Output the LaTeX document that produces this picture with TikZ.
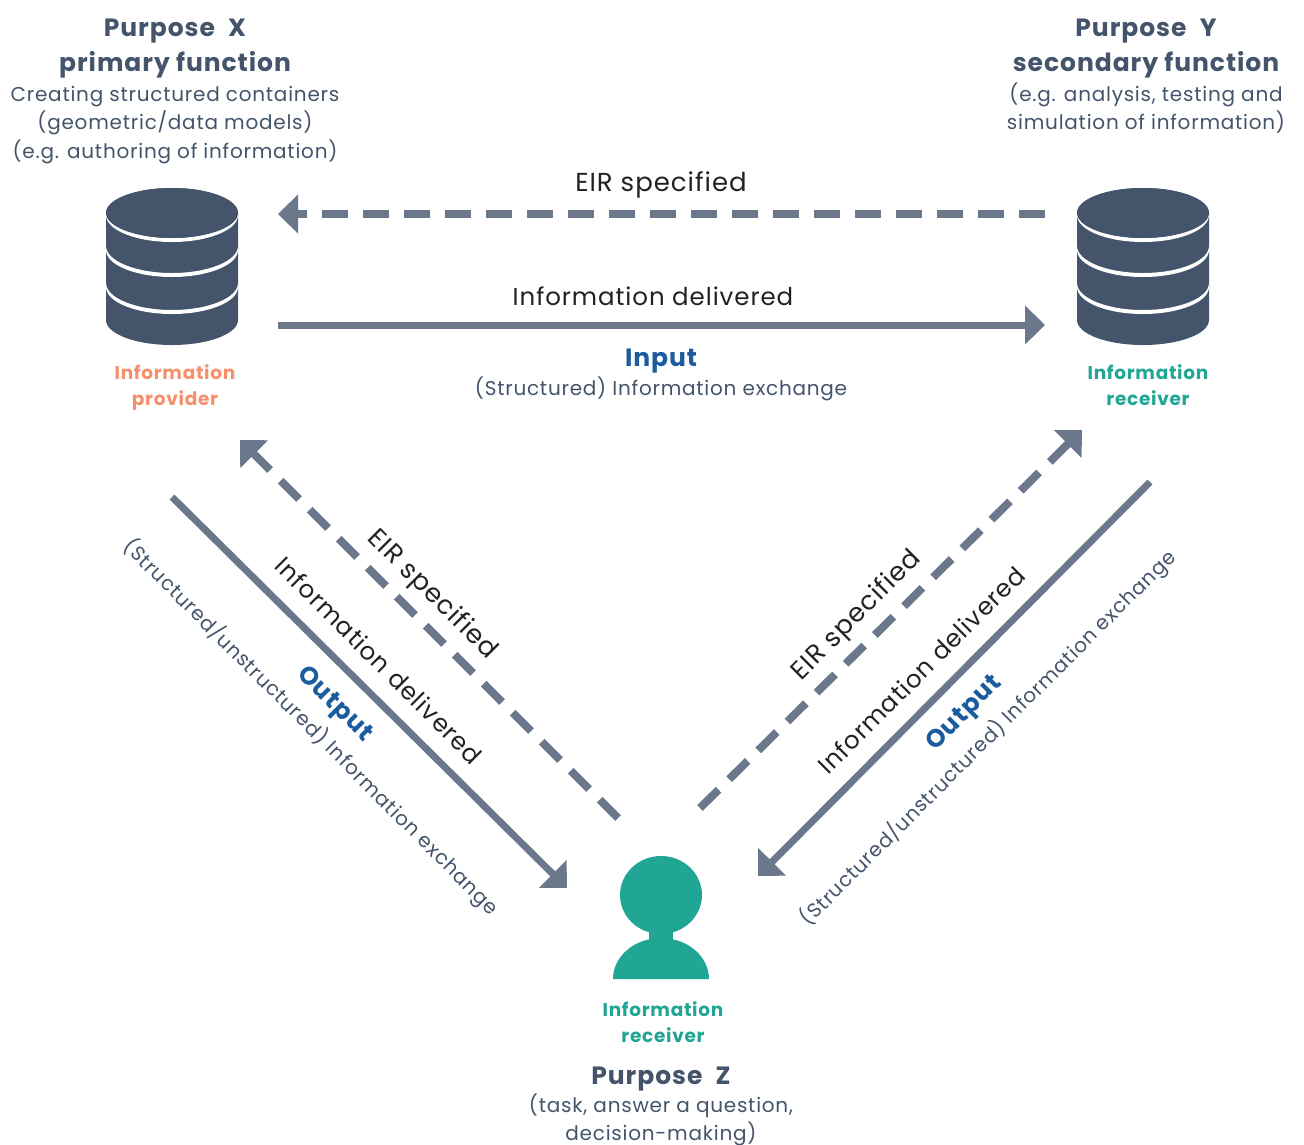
\documentclass[tikz,border=0pt]{standalone}
\usepackage{fontspec}
\setmainfont{Poppins}[LetterSpace=3.8]
\usetikzlibrary{arrows.meta}
\definecolor{ink}{HTML}{44546A}
\definecolor{arrowgray}{HTML}{6B788C}
\definecolor{teal1}{HTML}{21A696}
\definecolor{orange1}{HTML}{F58F6C}
\definecolor{blue1}{HTML}{1B5C9E}
\definecolor{txt}{HTML}{222222}
\tikzset{
 every node/.style={inner sep=0pt,outer sep=0pt,align=center},
 title/.style={font=\fontsize{25}{35}\selectfont\bfseries,text=ink},
 sub/.style={font=\fontsize{20}{28.5}\selectfont,text=ink},
 role/.style={font=\fontsize{18.5}{26}\selectfont\bfseries},
 flow/.style={font=\fontsize{24.5}{30}\selectfont,text=txt},
 eirlab/.style={font=\fontsize{26}{30}\selectfont,text=txt},
 inputlab/.style={font=\fontsize{25}{30}\selectfont\bfseries,text=blue1},
 exch/.style={font=\fontsize{20}{26}\selectfont,text=ink},
 solidarrow/.style={draw=arrowgray,line width=7pt,-{Triangle[length=20pt,width=38pt]}},
 dasharrow/.style={draw=arrowgray,line width=8pt,dash pattern=on 26pt off 15pt,-{Triangle[length=20pt,width=38pt,sep=0pt]}},
 db/.pic={
  \fill[ink] (-66,0) -- (-66,107) arc[start angle=180,end angle=0,x radius=66,y radius=25] -- (66,0) arc[start angle=0,end angle=-180,x radius=66,y radius=25] -- cycle;
  \foreach \yy in {2,37,74}{\fill[white] (-66,\yy) arc[start angle=180,end angle=0,x radius=66,y radius=27] -- (66,\yy-4) arc[start angle=0,end angle=180,x radius=66,y radius=27] -- cycle;}
  \fill[ink] (0,0) ellipse[x radius=66,y radius=25];
 },
}
\begin{document}
\begin{tikzpicture}[x=1pt,y=-1pt]
\useasboundingbox (0,0) rectangle (1304,1144);
\pic at (172,213) {db};
\pic at (1143,213) {db};
% person
\fill[teal1] (661,895) ellipse[x radius=41,y radius=39];
\fill[teal1] (649,925) rectangle (673,945);
\fill[teal1] (613,979) arc[start angle=180,end angle=360,x radius=48,y radius=41] -- cycle;
\coordinate (xE) at (278,214); \coordinate (yE) at (1045,214);
\coordinate (xS) at (278,325); \coordinate (yS) at (1045,325);
\coordinate (xD) at (240,440); \coordinate (zD) at (618,818);
\coordinate (xO) at (172,497); \coordinate (zO) at (567,888);
\coordinate (yD) at (1082,430); \coordinate (wD) at (700,808);
\coordinate (yO) at (1150,482); \coordinate (wO) at (758,876);
\draw[dasharrow] (yE) -- (xE);
\draw[solidarrow] (xS) -- (yS);
\draw[dasharrow] (zD) -- (xD);
\draw[solidarrow] (xO) -- (zO);
\draw[dasharrow] (wD) -- (yD);
\draw[solidarrow] (yO) -- (wO);
\node[title] (px) at (175,49) {Purpose\hspace{7pt} X\\primary function};
\node[sub] (pxs) at (175,125) {Creating structured containers\\(geometric/data models)\\(e.g. authoring of information)};
\node[title] (py) at (1146,49) {Purpose\hspace{7pt} Y\\secondary function};
\node[sub] (pys) at (1146,108) {(e.g. analysis, testing and\\simulation of information)};
\node[role,text=orange1] (r1) at (175,388) {Information\\provider};
\node[role,text=teal1] (r2) at (1148,385) {Information\\receiver};
\node[role,text=teal1] (r3) at (663,1022) {Information\\receiver};
\node[title] (pz) at (661,1079) {Purpose\hspace{7pt} Z};
\node[sub] (pzs) at (661,1120) {(task, answer a question,\\decision-making)};
\node[eirlab] (l1) at (661,185) {EIR specified};
\node[flow] (l2) at (653,296) {Information delivered};
\node[inputlab] (l3) at (661,361) {Input};
\node[exch] (l4) at (661,389) {(Structured) Information exchange};
\node[eirlab,rotate=-45] (a1) at (432,595) {EIR specified};
\node[flow,rotate=-45] (a2) at (379,660) {Information delivered};
\node[inputlab,rotate=-45] (a3) at (334,705) {Output};
\node[exch,rotate=-45] (a4) at (311,727) {(Structured/unstructured) Information exchange};
\node[eirlab,rotate=45] (b1) at (857,616) {EIR specified};
\node[flow,rotate=45] (b2) at (921,670) {Information delivered};
\node[inputlab,rotate=45] (b3) at (965,714) {Output};
\node[exch,rotate=45] (b4) at (988,738) {(Structured/unstructured) Information exchange};
\end{tikzpicture}
\end{document}
